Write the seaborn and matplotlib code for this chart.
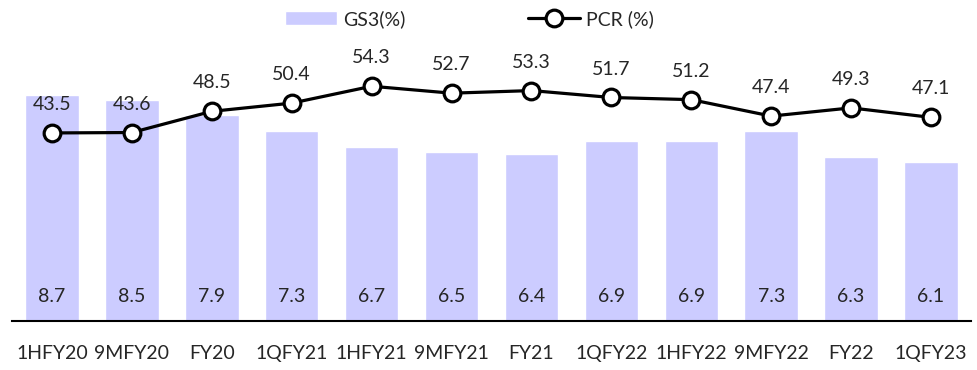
import numpy as np
import pandas as pd
import matplotlib.pyplot as plt
import seaborn as sns

periods = ["1HFY20", "9MFY20", "FY20", "1QFY21", "1HFY21", "9MFY21",
           "FY21", "1QFY22", "1HFY22", "9MFY22", "FY22", "1QFY23"]
gs3 = [8.7, 8.5, 7.9, 7.3, 6.7, 6.5, 6.4, 6.9, 6.9, 7.3, 6.3, 6.1]
pcr = [43.5, 43.6, 48.5, 50.4, 54.3, 52.7, 53.3, 51.7, 51.2, 47.4, 49.3, 47.1]

df = pd.DataFrame({"period": periods, "gs3": gs3, "pcr": pcr})

sns.set_style("white")
plt.rcParams["font.family"] = ["Lato", "DejaVu Sans"]

fig = plt.figure(figsize=(9.78, 3.7), dpi=100)
ax = fig.add_axes([12 / 978, 49 / 370, 959 / 978, 281 / 370])

sns.barplot(data=df, x="period", y="gs3", color="#ccccff", saturation=1,
            width=0.67, ax=ax, label="GS3(%)", legend=False)
ax.set_ylim(0, 10.8)
ax.set_xlim(-0.5, len(periods) - 0.5)
for i, v in enumerate(gs3):
    ax.text(i, 0.95, f"{v}", ha="center", va="center", fontsize=14)

ax2 = ax.twinx()
sns.lineplot(x=np.arange(len(periods)), y=pcr, ax=ax2, color="black",
             lw=2.3, marker="o", markersize=12, markerfacecolor="white",
             markeredgecolor="black", markeredgewidth=2.3, label="PCR (%)",
             legend=False)
ax2.set_ylim(0, 65)
for i, v in enumerate(pcr):
    ax2.text(i, v + 4.6, f"{v}", ha="center", va="bottom", fontsize=14)

for a in (ax, ax2):
    for s in ["top", "right", "left"]:
        a.spines[s].set_visible(False)
    a.set_yticks([])
    a.set_ylabel("")
ax.set_xlabel("")
ax.spines["bottom"].set_color("black")
ax.spines["bottom"].set_linewidth(1.5)
ax2.spines["bottom"].set_visible(False)
ax.tick_params(axis="x", length=0, pad=17, labelsize=14)

h1, l1 = ax.get_legend_handles_labels()
h2, l2 = ax2.get_legend_handles_labels()
if ax.get_legend() is not None:
    ax.get_legend().remove()
fig.legend(h1 + h2, l1 + l2, loc="upper center", bbox_to_anchor=(0.48, 1.02),
           ncol=2, frameon=False, fontsize=14, handlelength=2.7,
           columnspacing=6.3, handletextpad=0.3)

fig.savefig("out.png", dpi=100)
